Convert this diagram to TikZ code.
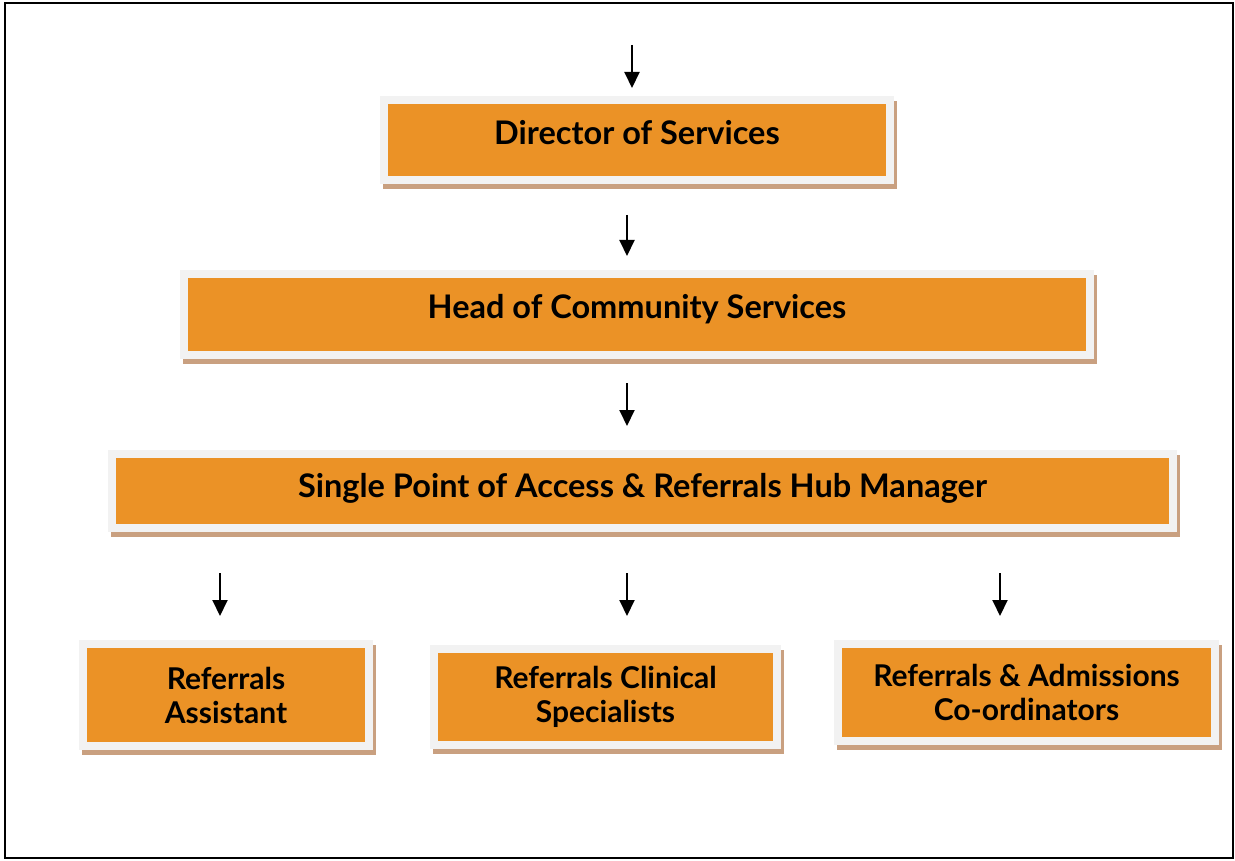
\documentclass[tikz,border=0pt]{standalone}
\usepackage{fontspec}
\setmainfont{Lato}
\usetikzlibrary{arrows.meta,backgrounds}
\definecolor{boxorange}{HTML}{EB9226}
\definecolor{boxrim}{HTML}{F2F2F2}
\definecolor{boxshadow}{HTML}{C9A080}
\begin{document}
\begin{tikzpicture}[x=1pt, y=-1pt, role/.style={rectangle,fill=boxorange,draw=boxrim,line width=8pt,inner sep=0pt,align=center,font=\fontsize{32.5}{34}\selectfont\bfseries}, staff/.style={role,font=\fontsize{30}{34}\selectfont\bfseries}, down arrow/.style={-{Triangle[length=16pt,width=15pt]},line width=2pt}]
\useasboundingbox (0,0) rectangle (1235,861);
\draw[line width=2pt] (5,3) rectangle (1233,858);%frame
\begin{scope}
\node[role,minimum width=506pt,minimum height=80pt] (dir) at (637,140) {\raisebox{16pt}{Director of Services}};
\node[role,minimum width=906pt,minimum height=81pt] (head) at (637,314.5) {\raisebox{17pt}{Head of Community Services}};
\node[role,minimum width=1061pt,minimum height=74pt] (spa) at (642.5,491) {\raisebox{12pt}{Single Point of Access \& Referrals Hub Manager}};
\node[staff,minimum width=286pt,minimum height=102pt] (ra) at (226,695) {Referrals\\Assistant};
\node[staff,minimum width=343pt,minimum height=96pt] (rcs) at (605.5,697) {Referrals Clinical\\Specialists};
\node[staff,minimum width=377pt,minimum height=97pt] (rac) at (1026.5,692.5) {Referrals \& Admissions\\Co-ordinators};
\end{scope}
\begin{scope}[on background layer]
\foreach \b in {dir,head,spa,ra,rcs,rac}
  \fill[boxshadow] ([shift={(3,5)}]\b.north west) rectangle ([shift={(3,5)}]\b.south east);
\end{scope}
\coordinate (dir from) at (632,45);  \coordinate (dir in) at (632,88);
\coordinate (head from) at (627,215); \coordinate (head in) at (627,256);
\coordinate (spa from) at (627,383);  \coordinate (spa in) at (627,426);
\coordinate (ra from) at (220,573);   \coordinate (ra in) at (220,616);
\coordinate (rcs from) at (627,573);  \coordinate (rcs in) at (627,616);
\coordinate (rac from) at (1000,573); \coordinate (rac in) at (1000,616);
\foreach \b in {dir,head,spa,ra,rcs,rac}
  \draw[down arrow] (\b\space from) -- (\b\space in);
\end{tikzpicture}
\end{document}
